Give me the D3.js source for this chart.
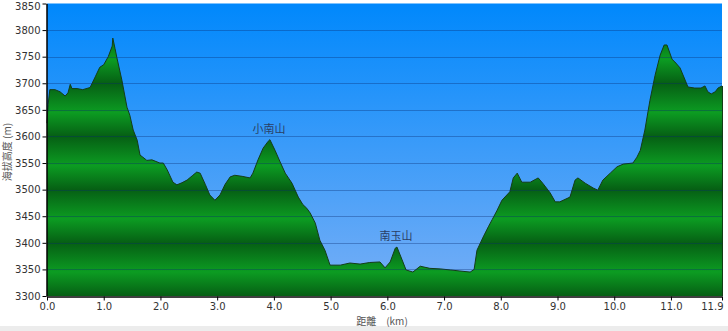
<!DOCTYPE html>
<html>
<head>
<meta charset="utf-8">
<script src="https://cdnjs.cloudflare.com/ajax/libs/d3/7.8.5/d3.min.js"></script>
<style>
  html, body { margin: 0; padding: 0; background: #fff; }
  svg { display: block; font-family: "DejaVu Sans", Verdana, sans-serif; }
</style>
</head>
<body>
<div id="chart"></div>
<script>
// distance along the trail (km) and elevation (m)
var distKm = [0.00, 0.02, 0.05, 0.14, 0.23, 0.32, 0.37, 0.41, 0.44, 0.53, 0.63, 0.76, 0.85, 0.93,
  1.00, 1.08, 1.15, 1.16, 1.20, 1.23, 1.32, 1.41, 1.46, 1.52, 1.59, 1.64, 1.69, 1.76, 1.85, 1.99,
  2.05, 2.12, 2.22, 2.29, 2.38, 2.47, 2.56, 2.64, 2.70, 2.79, 2.87, 2.96, 3.05, 3.14, 3.23, 3.31,
  3.44, 3.58, 3.63, 3.72, 3.81, 3.90, 3.93, 4.02, 4.11, 4.20, 4.32, 4.43, 4.51, 4.58, 4.64, 4.73,
  4.81, 4.90, 4.99, 5.17, 5.34, 5.52, 5.69, 5.87, 5.96, 6.05, 6.14, 6.17, 6.26, 6.33, 6.45, 6.58,
  6.75, 6.93, 7.11, 7.28, 7.46, 7.53, 7.58, 7.69, 7.78, 7.85, 7.93, 8.02, 8.16, 8.22, 8.29, 8.37,
  8.52, 8.66, 8.74, 8.87, 8.96, 9.04, 9.22, 9.31, 9.36, 9.49, 9.63, 9.71, 9.80, 9.93, 10.05, 10.16,
  10.33, 10.40, 10.46, 10.54, 10.63, 10.72, 10.81, 10.88, 10.93, 11.02, 11.07, 11.16, 11.25, 11.30,
  11.42, 11.53, 11.60, 11.65, 11.71, 11.78, 11.83, 11.90];
var elevM = [3625, 3660, 3688, 3688, 3684, 3676, 3682, 3698, 3690, 3690, 3688, 3692, 3712, 3730,
  3735, 3750, 3770, 3785, 3765, 3749, 3706, 3655, 3640, 3612, 3593, 3565, 3561, 3555, 3556, 3550,
  3550, 3537, 3514, 3509, 3513, 3518, 3526, 3533, 3531, 3510, 3490, 3480, 3490, 3510, 3524, 3527,
  3525, 3522, 3531, 3556, 3578, 3591, 3594, 3574, 3552, 3531, 3512, 3486, 3472, 3465, 3456, 3437,
  3405, 3386, 3358, 3358, 3362, 3360, 3363, 3364, 3353, 3364, 3390, 3392, 3368, 3349, 3345, 3356,
  3352, 3351, 3349, 3347, 3345, 3350, 3386, 3411, 3430, 3444, 3460, 3480, 3496, 3522, 3531, 3514,
  3514, 3522, 3512, 3494, 3477, 3477, 3486, 3518, 3522, 3512, 3503, 3499, 3518, 3531, 3543, 3548,
  3550, 3561, 3574, 3612, 3668, 3715, 3753, 3772, 3772, 3745, 3740, 3729, 3706, 3693,
  3691, 3691, 3695, 3684, 3680, 3684, 3691, 3695];

var xTicks = [0, 1, 2, 3, 4, 5, 6, 7, 8, 9, 10, 11, 11.9];
var yTicks = [3300, 3350, 3400, 3450, 3500, 3550, 3600, 3650, 3700, 3750, 3800, 3850];

var peakNames = ['小南山', '南玉山'];
var peakKm = [3.93, 6.17];
var peakElev = [3594, 3392];

var width = 728,
  height = 331,
  margin = {top: 3.5, right: 6, bottom: 35, left: 47};

var svg = d3.select('#chart')
  .append('svg')
  .attr('width', width)
  .attr('height', height);

var x = d3.scaleLinear().domain([0, 11.9]).range([margin.left, width - margin.right]);
var y = d3.scaleLinear().domain([3300, 3850]).range([height - margin.bottom, margin.top]);

var defs = svg.append('defs');

var sky = defs.append('linearGradient')
  .attr('id', 'sky')
  .attr('x1', 0).attr('y1', 0).attr('x2', 0).attr('y2', 1);
sky.append('stop').attr('offset', '0%').attr('stop-color', '#0088fc');
sky.append('stop').attr('offset', '100%').attr('stop-color', '#78aff6');

var ground = defs.append('linearGradient')
  .attr('id', 'ground')
  .attr('gradientUnits', 'userSpaceOnUse')
  .attr('spreadMethod', 'repeat')
  .attr('x1', 0).attr('x2', 0)
  .attr('y1', y(3500)).attr('y2', y(3400));
ground.append('stop').attr('offset', '0%').attr('stop-color', '#065f14');
ground.append('stop').attr('offset', '55%').attr('stop-color', '#0c9c22');
ground.append('stop').attr('offset', '100%').attr('stop-color', '#065f14');

// light grey strip at the bottom of the picture
svg.append('rect')
  .attr('x', 0).attr('y', 326)
  .attr('width', width).attr('height', height - 326)
  .attr('fill', '#ececec');

svg.append('rect')
  .attr('x', x(0)).attr('y', y(3850))
  .attr('width', x(11.9) - x(0)).attr('height', y(3300) - y(3850))
  .attr('fill', 'url(#sky)');

var profile = distKm.map(function(d, i) { return [d, elevM[i]]; });

svg.append('path')
  .datum(profile)
  .attr('fill', 'url(#ground)')
  .attr('d', d3.area()
    .x(function(d) { return x(d[0]); })
    .y0(y(3300))
    .y1(function(d) { return y(d[1]); }));

svg.append('path')
  .datum(profile)
  .attr('fill', 'none')
  .attr('stroke', '#143c18')
  .attr('stroke-width', 1)
  .attr('d', d3.line()
    .x(function(d) { return x(d[0]); })
    .y(function(d) { return y(d[1]); }));

// grid lines
svg.append('g')
  .selectAll('line')
  .data(yTicks.slice(1, -1))
  .enter()
  .append('line')
  .attr('x1', x(0)).attr('x2', x(11.9))
  .attr('y1', function(d) { return Math.round(y(d)) + 0.5; })
  .attr('y2', function(d) { return Math.round(y(d)) + 0.5; })
  .attr('stroke', '#0a2a70')
  .attr('stroke-opacity', 0.35);

// right edge of the plot
svg.append('line')
  .attr('x1', x(11.9) + 0.5).attr('x2', x(11.9) + 0.5)
  .attr('y1', y(elevM[elevM.length - 1])).attr('y2', y(3300))
  .attr('stroke', '#143c18');

var yAxis = svg.append('g')
  .attr('transform', 'translate(' + (margin.left - 0.5) + ',0)')
  .call(d3.axisLeft(y).tickValues(yTicks).tickSize(4).tickSizeOuter(0).tickFormat(d3.format('d')));

var xAxis = svg.append('g')
  .attr('transform', 'translate(0,' + (y(3300) + 0.5) + ')')
  .call(d3.axisBottom(x).tickValues(xTicks).tickSize(4).tickSizeOuter(0).tickFormat(d3.format('.1f')));

[yAxis, xAxis].forEach(function(g) {
  g.select('.domain').attr('stroke', '#000').attr('stroke-width', 1.5);
  g.selectAll('.tick line').attr('stroke', '#000');
  g.selectAll('.tick text')
    .attr('fill', '#333')
    .style('font-size', '10px')
    .style('font-family', '"DejaVu Sans", Verdana, sans-serif');
});
yAxis.selectAll('.tick text').attr('x', -6);
// top label is nudged down so it stays inside the picture
yAxis.selectAll('.tick text').filter(function(d) { return d === 3850; }).attr('y', 2.5);
xAxis.selectAll('.tick text').attr('y', 6);
xAxis.selectAll('.tick text').filter(function(d) { return d === 11.9; })
  .attr('text-anchor', 'end').attr('x', 1);

svg.append('text')
  .attr('transform', 'translate(11,152) rotate(-90)')
  .attr('text-anchor', 'middle')
  .attr('fill', '#555')
  .style('font-size', '10px')
  .style('font-family', '"Noto Sans CJK TC", "DejaVu Sans", sans-serif')
  .text('海拔高度 (m)');

svg.append('text')
  .attr('x', 382)
  .attr('y', 325)
  .attr('text-anchor', 'middle')
  .attr('fill', '#555')
  .style('font-size', '10px')
  .style('font-family', '"Noto Sans CJK TC", "DejaVu Sans", sans-serif')
  .text('距離　(km)');

svg.append('g')
  .selectAll('text')
  .data(peakNames)
  .enter()
  .append('text')
  .attr('x', function(d, i) { return x(peakKm[i]) - 1; })
  .attr('y', function(d, i) { return y(peakElev[i]) - 7; })
  .attr('text-anchor', 'middle')
  .attr('fill', '#2a3f66')
  .style('font-size', '11px')
  .style('font-family', '"Noto Sans CJK TC", sans-serif')
  .text(function(d) { return d; });
</script>
</body>
</html>
